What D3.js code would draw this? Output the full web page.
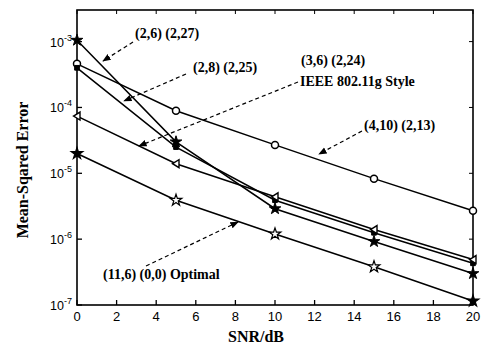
<!DOCTYPE html>
<html><head><meta charset="utf-8">
<script src="https://cdn.jsdelivr.net/npm/d3@7"></script>
<style>body{margin:0;background:#fff;}svg{display:block;}</style>
</head><body>
<svg id="c" width="481" height="347"></svg>
<script>
const snr = [0, 5, 10, 15, 20];
const xTicks = [0, 2, 4, 6, 8, 10, 12, 14, 16, 18, 20];
const yTicks = [1e-7, 1e-6, 1e-5, 1e-4, 1e-3];
const yTickExp = ["-7", "-6", "-5", "-4", "-3"];
const seriesCircle = [4.6e-4, 8.9e-5, 2.7e-5, 8.3e-6, 2.7e-6];   // (4,10) (2,13)
const seriesStar26 = [1.05e-3, 3.0e-5, 2.9e-6, 9.2e-7, 3.0e-7];   // (2,6) (2,27)
const seriesSq28 = [4.0e-4, 2.5e-5, 3.9e-6, 1.25e-6, 4.3e-7];     // (2,8) (2,25)
const seriesTri = [7.4e-5, 1.4e-5, 4.4e-6, 1.4e-6, 4.9e-7];       // (3,6) (2,24) IEEE
const seriesOpt = [2.0e-5, 3.9e-6, 1.2e-6, 3.8e-7, 1.15e-7];      // (11,6) (0,0) Optimal

const svg = d3.select("#c");
const x = d3.scaleLinear().domain([0, 20]).range([77, 473]);
const y = d3.scaleLog().domain([1e-7, Math.pow(10, -2.52)]).range([305, 10]);

svg.append("defs").append("marker").attr("id", "ah").attr("viewBox", "0 0 10 10")
  .attr("refX", 9).attr("refY", 5).attr("markerWidth", 7).attr("markerHeight", 7)
  .attr("orient", "auto").append("path").attr("d", "M0,1 L10,5 L0,9 Z").attr("fill", "#000");

// frame
svg.append("rect").attr("x", 77).attr("y", 10).attr("width", 396).attr("height", 295)
  .attr("fill", "none").attr("stroke", "#000").attr("stroke-width", 1.6);

const sans = "Liberation Sans, Arial, sans-serif";
const serif = "Liberation Serif, Times New Roman, serif";

// x ticks (inward)
xTicks.forEach(t => {
  svg.append("line").attr("x1", x(t)).attr("x2", x(t)).attr("y1", 305).attr("y2", 300).attr("stroke", "#000").attr("stroke-width", 1.3);
  svg.append("line").attr("x1", x(t)).attr("x2", x(t)).attr("y1", 10).attr("y2", 14).attr("stroke", "#000").attr("stroke-width", 1);
  svg.append("text").attr("x", x(t)).attr("y", 321).attr("text-anchor", "middle")
    .attr("font-family", sans).attr("font-size", 13).text(t);
});
// y ticks
yTicks.forEach((t, i) => {
  svg.append("line").attr("x1", 77).attr("x2", 82).attr("y1", y(t)).attr("y2", y(t)).attr("stroke", "#000").attr("stroke-width", 1.3);
  svg.append("line").attr("x1", 473).attr("x2", 469).attr("y1", y(t)).attr("y2", y(t)).attr("stroke", "#000").attr("stroke-width", 1);
  const tx = svg.append("text").attr("x", 72).attr("y", y(t) + 5).attr("text-anchor", "end")
    .attr("font-family", sans).attr("font-size", 12.5);
  tx.append("tspan").text("10");
  tx.append("tspan").attr("dy", -6).attr("font-size", 9).text(yTickExp[i]);
});

// axis labels
svg.append("text").attr("x", 256).attr("y", 342).attr("text-anchor", "middle")
  .attr("font-family", serif).attr("font-weight", "bold").attr("font-size", 16).text("SNR/dB");
svg.append("text").attr("transform", "translate(28,170) rotate(-90)").attr("text-anchor", "middle")
  .attr("font-family", serif).attr("font-weight", "bold").attr("font-size", 16).text("Mean-Sqared Error");

const line = d3.line().x((d, i) => x(snr[i])).y(d => y(d));
const all = [seriesCircle, seriesStar26, seriesSq28, seriesTri, seriesOpt];
all.forEach(s => svg.append("path").attr("d", line(s)).attr("fill", "none").attr("stroke", "#000").attr("stroke-width", 1.5));

function pts(s) { return s.map((v, i) => [x(snr[i]), y(v)]); }
pts(seriesCircle).forEach(p => svg.append("circle").attr("cx", p[0]).attr("cy", p[1]).attr("r", 3.5).attr("fill", "#fff").attr("stroke", "#000").attr("stroke-width", 1.5));
const star = d3.symbol().type(d3.symbolStar);
pts(seriesStar26).forEach(p => svg.append("path").attr("d", star.size(42)()).attr("transform", `translate(${p[0]},${p[1]})`).attr("fill", "#000").attr("stroke", "#000"));
pts(seriesSq28).forEach(p => svg.append("path").attr("d", d3.symbol().type(d3.symbolSquare).size(22)()).attr("transform", `translate(${p[0]},${p[1]})`).attr("fill", "#000").attr("stroke", "#000"));
pts(seriesTri).forEach(p => svg.append("path").attr("d", "M-3.5,0 L3,-4 L3,4 Z").attr("transform", `translate(${p[0]},${p[1]})`).attr("fill", "#fff").attr("stroke", "#000").attr("stroke-width", 1.4));
pts(seriesOpt).forEach((p, i) => svg.append("path").attr("d", star.size(42)()).attr("transform", `translate(${p[0]},${p[1]})`).attr("fill", i === 0 || i === 4 ? "#000" : "#fff").attr("stroke", "#000").attr("stroke-width", 1.2));

// annotations
function label(tx, ty, str) {
  svg.append("text").attr("x", tx).attr("y", ty).attr("font-family", serif).attr("font-weight", "bold").attr("font-size", 14).text(str);
}
function arrow(x1, y1, x2, y2) {
  svg.append("line").attr("x1", x1).attr("y1", y1).attr("x2", x2).attr("y2", y2)
    .attr("stroke", "#000").attr("stroke-width", 1.2).attr("stroke-dasharray", "4,3").attr("marker-end", "url(#ah)");
}
label(135, 38, "(2,6) (2,27)");
arrow(133, 42, 103, 61);
label(193, 72, "(2,8) (2,25)");
arrow(186, 74, 124, 101);
label(301, 65, "(3,6) (2,24)");
label(300, 86, "IEEE 802.11g Style");
arrow(298, 82, 139, 146);
label(364, 130, "(4,10) (2,13)");
arrow(362, 131, 319, 154);
label(103, 279, "(11,6) (0,0) Optimal");
arrow(146, 266, 238, 222);
</script>
</body></html>
